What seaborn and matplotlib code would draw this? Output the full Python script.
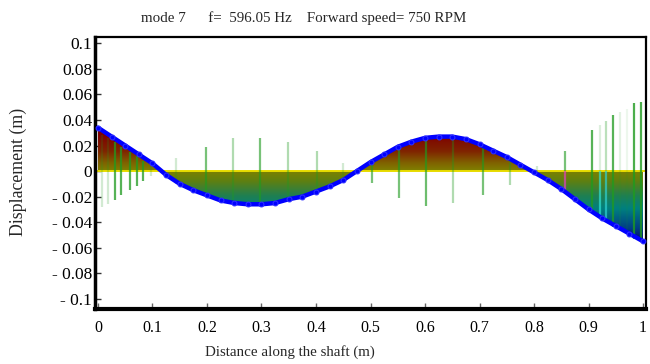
import numpy as np
import pandas as pd
import matplotlib
matplotlib.use("Agg")
import matplotlib.pyplot as plt
import seaborn as sns
from matplotlib.colors import LinearSegmentedColormap, Normalize

# ---- data ----
shaft_x = [0.000, 0.025, 0.050, 0.075, 0.100, 0.125, 0.150, 0.175, 0.200, 0.225,
           0.250, 0.275, 0.300, 0.325, 0.350, 0.375, 0.400, 0.425, 0.450, 0.475,
           0.500, 0.525, 0.550, 0.575, 0.600, 0.625, 0.650, 0.675, 0.700, 0.725,
           0.750, 0.775, 0.800, 0.825, 0.850, 0.875, 0.900, 0.925, 0.950, 0.975, 1.000]
displacement = [0.034, 0.027, 0.020, 0.013, 0.006, -0.003, -0.010, -0.015, -0.019, -0.023,
                -0.025, -0.026, -0.026, -0.025, -0.022, -0.020, -0.016, -0.012, -0.007, 0.000,
                0.007, 0.013, 0.019, 0.023, 0.026, 0.027, 0.027, 0.025, 0.021, 0.016,
                0.011, 0.005, -0.001, -0.007, -0.014, -0.022, -0.030, -0.037, -0.043, -0.049, -0.055]

stem_x = [0.008, 0.019, 0.031, 0.043, 0.059, 0.071, 0.083, 0.098, 0.143, 0.198,
          0.247, 0.297, 0.348, 0.401, 0.450, 0.502, 0.552, 0.602, 0.652, 0.706,
          0.756, 0.806, 0.856, 0.906, 0.921, 0.933, 0.945, 0.958, 0.970, 0.983, 0.996]
stem_amp = [0.028, 0.026, 0.023, 0.019, 0.015, 0.012, 0.008, 0.004, 0.010, 0.019,
            0.026, 0.026, 0.023, 0.016, 0.006, 0.009, 0.021, 0.027, 0.025, 0.019,
            0.011, 0.004, 0.016, 0.032, 0.036, 0.039, 0.044, 0.046, 0.049, 0.053, 0.054]
stem_alpha = [0.2, 0.2, 0.75, 0.75, 0.75, 0.75, 0.75, 0.2, 0.2, 0.6,
              0.35, 0.6, 0.35, 0.35, 0.2, 0.6, 0.6, 0.65, 0.35, 0.6,
              0.35, 0.2, 0.6, 0.75, 0.15, 0.3, 0.75, 0.12, 0.08, 0.8, 0.8]
stem_low_color = ['g'] * 22 + ['#e040c0', 'g', '#30e0d0', '#30d0d0', 'g', 'g', 'g', 'g', 'g']

y_ticks = [0.1, 0.08, 0.06, 0.04, 0.02, 0.0, -0.02, -0.04, -0.06, -0.08, -0.1]
y_tick_labels = ["0.1", "0.08", "0.06", "0.04", "0.02", "0",
                 "- 0.02", "- 0.04", "- 0.06", "- 0.08", "- 0.1"]
x_ticks = [0, 0.1, 0.2, 0.3, 0.4, 0.5, 0.6, 0.7, 0.8, 0.9, 1.0]
x_tick_labels = ["0", "0.1", "0.2", "0.3", "0.4", "0.5", "0.6", "0.7", "0.8", "0.9", "1"]

title_text = "mode 7      f=  596.05 Hz    Forward speed= 750 RPM"
xlabel_text = "Distance along the shaft (m)"
ylabel_text = "Displacement (m)"

# ---- styling ----
sns.set_style("white")
plt.rcParams['font.family'] = ['Liberation Serif', 'DejaVu Serif']

df = pd.DataFrame({"x": shaft_x, "y": displacement})

fig = plt.figure(figsize=(6.5, 3.64), dpi=100)
ax = fig.add_axes([95/650, 1-309/364, (646-95)/650, (309-37)/364])
xlim = (-0.0055, 1.0055)
ylim = (-0.108, 0.105)

# gradient fill between curve and zero
fill = ax.fill_between(df["x"], df["y"], 0, color='none', lw=0)
vmin, vmax = -0.056, 0.028
stops = [(-0.056, (0.00, 0.00, 0.45)),
         (-0.045, (0.00, 0.25, 0.52)),
         (-0.030, (0.00, 0.50, 0.50)),
         (-0.020, (0.12, 0.50, 0.32)),
         (-0.008, (0.38, 0.50, 0.06)),
         (0.000, (0.50, 0.50, 0.00)),
         (0.006, (0.50, 0.38, 0.00)),
         (0.015, (0.50, 0.14, 0.00)),
         (0.028, (0.50, 0.00, 0.00))]
cmap = LinearSegmentedColormap.from_list(
    "jetdark", [((v - vmin) / (vmax - vmin), c) for v, c in stops])
g_lo, g_hi = -0.07, 0.05
grad = np.linspace(g_lo, g_hi, 500).reshape(-1, 1)
im = ax.imshow(grad, extent=[0, 1, g_lo, g_hi], origin='lower', aspect='auto',
               cmap=cmap, norm=Normalize(vmin, vmax, clip=True), zorder=1,
               interpolation='bilinear')
im.set_clip_path(fill.get_paths()[0], transform=ax.transData)
ax.set_xlim(*xlim)
ax.set_ylim(*ylim)

# zero line
ax.axhline(0, color='#e8dc00', lw=1.4, zorder=2)

# stems
for sx, sa, al, lc in zip(stem_x, stem_amp, stem_alpha, stem_low_color):
    ax.vlines(sx, 0, sa, color='#1f9a1f', alpha=al, lw=1.6, zorder=3)
    ax.vlines(sx, -sa, 0, color=lc if lc != 'g' else '#1f9a1f', alpha=al if lc == 'g' else 0.7,
              lw=1.6, zorder=3)

# curve
sns.lineplot(data=df, x="x", y="y", ax=ax, color='#0000ff', lw=3.2, marker='o',
             markersize=3.5, markeredgecolor='#3030ff', zorder=5, legend=False)
ax.set_xlim(*xlim)
ax.set_ylim(*ylim)

# ticks
ax.set_yticks(y_ticks)
ax.set_yticklabels(y_tick_labels, fontsize=12.5)
ax.set_xticks(x_ticks)
ax.set_xticklabels(x_tick_labels, fontsize=11.5)
ax.tick_params(axis='y', direction='in', length=4, width=1, left=True, pad=2, colors='#333333',
               labelcolor='black')
ax.tick_params(axis='x', direction='in', length=4, width=1, bottom=True, pad=8, colors='#666666',
               labelcolor='black')
ax.set_xlabel("")
ax.set_ylabel("")

for side, w in [('left', 2.5), ('bottom', 3.0), ('top', 1.6), ('right', 1.6)]:
    ax.spines[side].set_visible(True)
    ax.spines[side].set_linewidth(w)
    ax.spines[side].set_color('black')

fig.text(304/650, 1-18/364, title_text, ha='center', va='center', fontsize=10.8)
fig.text(290/650, 1-352/364, xlabel_text, ha='center', va='center', fontsize=10.8)
fig.text(18/650, 1-172/364, ylabel_text, ha='center', va='center', rotation=90, fontsize=12.8)

fig.savefig("out.png", dpi=100, facecolor='white')
